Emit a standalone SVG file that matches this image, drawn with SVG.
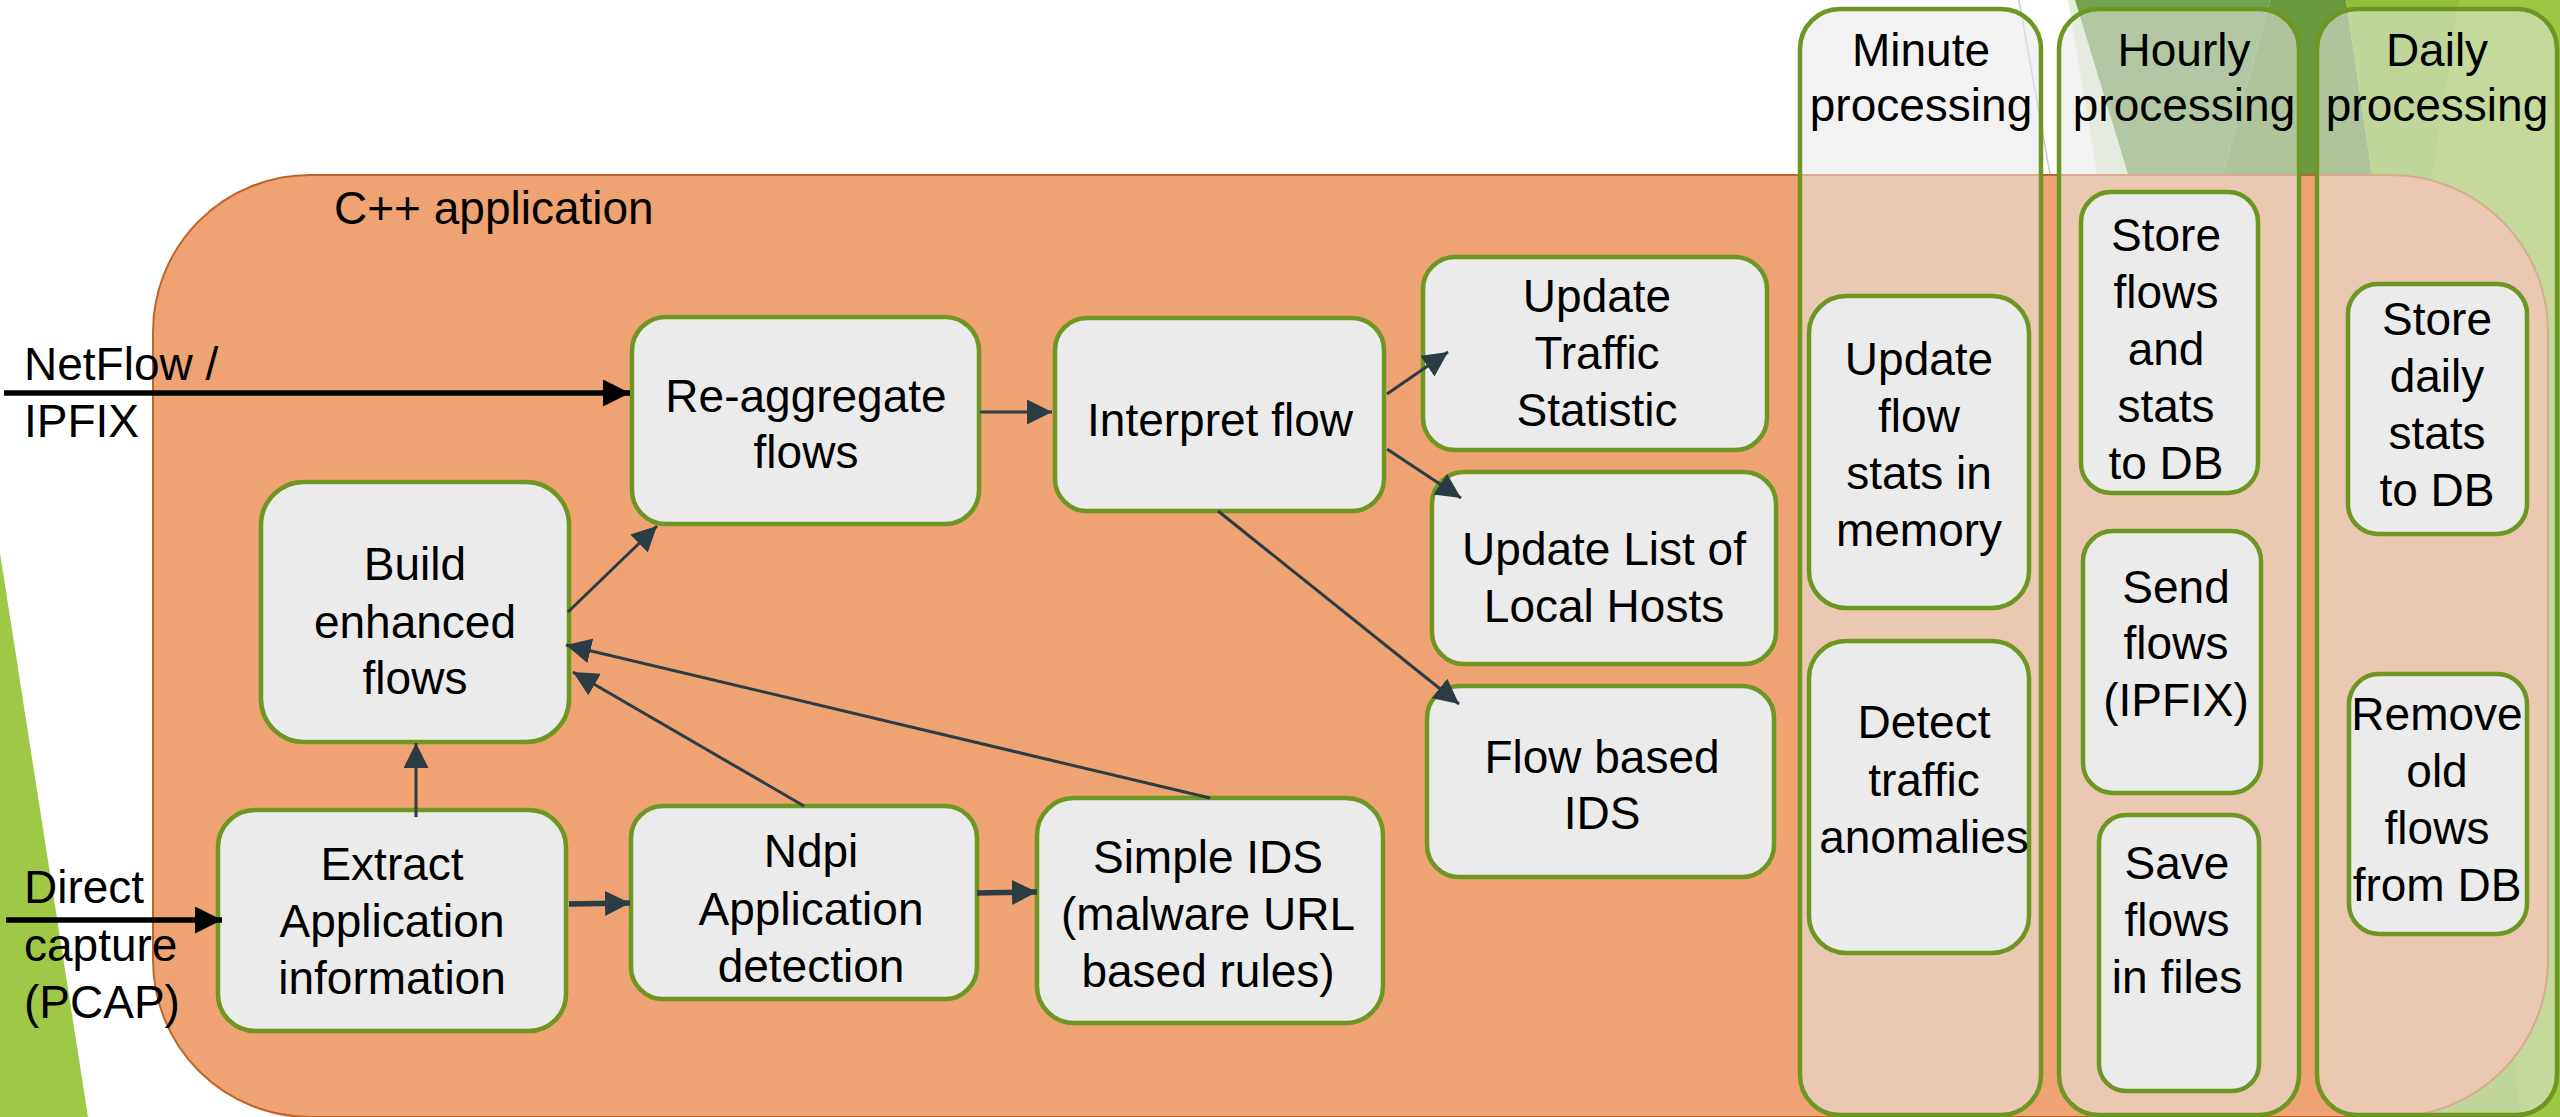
<svg xmlns="http://www.w3.org/2000/svg" width="2560" height="1117" viewBox="0 0 2560 1117">
  <style>
    .lbl { font-family: "Liberation Sans", Arial, sans-serif; font-size: 46px; fill: #000; }
    .mid { text-anchor: middle; }
    .node { fill: #EBEBEB; stroke: #6D9623; stroke-width: 4.5; }
    .col { fill: #E8E8E8; fill-opacity: 0.55; stroke: #6D9623; stroke-width: 4.5; }
    .app { fill: #EFA272; stroke: #C0652A; stroke-width: 2; }
    .flow { fill: none; stroke: #2B3C44; stroke-width: 3; marker-end: url(#head); }
    .flow.thick { stroke-width: 5.5; }
    .input { fill: none; stroke: #000; stroke-width: 5.5; marker-end: url(#headBlack); }
  </style>
  <defs>
    <marker id="head" viewBox="0 0 10 10" refX="10" refY="5" markerWidth="25" markerHeight="25" markerUnits="userSpaceOnUse" orient="auto">
      <path d="M0,0 L10,5 L0,10 z" fill="#2B3C44"/>
    </marker>
    <marker id="headBlack" viewBox="0 0 10 10" refX="10" refY="5" markerWidth="27" markerHeight="27" markerUnits="userSpaceOnUse" orient="auto">
      <path d="M0,0 L10,5 L0,10 z" fill="#000"/>
    </marker>
  </defs>

  <!-- page background and theme decorations -->
  <rect x="0" y="0" width="2560" height="1117" fill="#FFFFFF"/>
  <g id="decor">
    <polygon points="0,553 88,1117 0,1117" fill="#9FC847"/>
    <polygon points="2068,0 2075,0 2128,174 2097,174" fill="#E3F0D2"/>
    <polygon points="2075,0 2270,0 2223,174 2128,174" fill="#73A24F"/>
    <polygon points="2270,0 2346,0 2372,174 2223,174" fill="#6A9A3E"/>
    <polygon points="2346,0 2560,0 2560,1117 2300,1117 2372,174" fill="#8FBF3A"/>
    <polygon points="2459,0 2560,0 2560,1117 2520,1117 2432,174" fill="#9CC742"/>
    <line x1="2019" y1="0" x2="2050" y2="174" stroke="#C9C9C9" stroke-width="1.5"/>
  </g>

  <!-- application container -->
  <g id="cpp-app">
    <rect class="app" x="153" y="175" width="2395" height="942" rx="157" ry="157"/>
    <text class="lbl" x="334" y="224">C++ application</text>
  </g>

  <!-- periodic processing lanes -->
  <g id="lane-minute">
    <rect class="col" x="1800" y="9" width="241" height="1106" rx="40" ry="40"/>
    <text class="lbl mid" x="1921" y="66">Minute</text>
    <text class="lbl mid" x="1921" y="121">processing</text>
  </g>
  <g id="lane-hourly">
    <rect class="col" x="2059" y="9" width="240" height="1106" rx="40" ry="40"/>
    <text class="lbl mid" x="2184" y="66">Hourly</text>
    <text class="lbl mid" x="2184" y="121">processing</text>
  </g>
  <g id="lane-daily">
    <rect class="col" x="2317" y="9" width="240" height="1106" rx="40" ry="40"/>
    <text class="lbl mid" x="2437" y="66">Daily</text>
    <text class="lbl mid" x="2437" y="121">processing</text>
  </g>

  <!-- external inputs -->
  <g id="in-netflow">
    <text class="lbl" x="24" y="380">NetFlow /</text>
    <text class="lbl" x="24" y="437">IPFIX</text>
  </g>
  <g id="in-pcap">
    <text class="lbl" x="24" y="903">Direct</text>
    <text class="lbl" x="24" y="961">capture</text>
    <text class="lbl" x="24" y="1018">(PCAP)</text>
  </g>

  <!-- processing nodes -->
  <g id="reaggregate">
    <rect class="node" x="632" y="317" width="347" height="207" rx="34"/>
    <text class="lbl mid" x="806" y="412">Re-aggregate</text>
    <text class="lbl mid" x="806" y="468">flows</text>
  </g>
  <g id="interpret">
    <rect class="node" x="1055" y="318" width="329" height="193" rx="32"/>
    <text class="lbl mid" x="1220" y="436">Interpret flow</text>
  </g>
  <g id="traffic-stats">
    <rect class="node" x="1423" y="257" width="344" height="193" rx="32"/>
    <text class="lbl mid" x="1597" y="312">Update</text>
    <text class="lbl mid" x="1597" y="369">Traffic</text>
    <text class="lbl mid" x="1597" y="426">Statistic</text>
  </g>
  <g id="local-hosts">
    <rect class="node" x="1432" y="472" width="344" height="192" rx="32"/>
    <text class="lbl mid" x="1604" y="565">Update List of</text>
    <text class="lbl mid" x="1604" y="622">Local Hosts</text>
  </g>
  <g id="flow-ids">
    <rect class="node" x="1427" y="686" width="347" height="191" rx="32"/>
    <text class="lbl mid" x="1602" y="773">Flow based</text>
    <text class="lbl mid" x="1602" y="829">IDS</text>
  </g>
  <g id="build-enhanced">
    <rect class="node" x="261" y="482" width="308" height="260" rx="43"/>
    <text class="lbl mid" x="415" y="580">Build</text>
    <text class="lbl mid" x="415" y="638">enhanced</text>
    <text class="lbl mid" x="415" y="694">flows</text>
  </g>
  <g id="extract-app">
    <rect class="node" x="218" y="810" width="348" height="221" rx="37"/>
    <text class="lbl mid" x="392" y="880">Extract</text>
    <text class="lbl mid" x="392" y="937">Application</text>
    <text class="lbl mid" x="392" y="994">information</text>
  </g>
  <g id="ndpi">
    <rect class="node" x="631" y="806" width="346" height="193" rx="32"/>
    <text class="lbl mid" x="811" y="867">Ndpi</text>
    <text class="lbl mid" x="811" y="925">Application</text>
    <text class="lbl mid" x="811" y="982">detection</text>
  </g>
  <g id="simple-ids">
    <rect class="node" x="1037" y="798" width="346" height="225" rx="37"/>
    <text class="lbl mid" x="1208" y="873">Simple IDS</text>
    <text class="lbl mid" x="1208" y="930">(malware URL</text>
    <text class="lbl mid" x="1208" y="987">based rules)</text>
  </g>

  <g id="mem-stats">
    <rect class="node" x="1809" y="296" width="220" height="312" rx="37"/>
    <text class="lbl mid" x="1919" y="375">Update</text>
    <text class="lbl mid" x="1919" y="432">flow</text>
    <text class="lbl mid" x="1919" y="489">stats in</text>
    <text class="lbl mid" x="1919" y="546">memory</text>
  </g>
  <g id="anomalies">
    <rect class="node" x="1809" y="641" width="220" height="312" rx="37"/>
    <text class="lbl mid" x="1924" y="738">Detect</text>
    <text class="lbl mid" x="1924" y="796">traffic</text>
    <text class="lbl mid" x="1924" y="853">anomalies</text>
  </g>
  <g id="store-flows">
    <rect class="node" x="2081" y="192" width="177" height="301" rx="30"/>
    <text class="lbl mid" x="2166" y="251">Store</text>
    <text class="lbl mid" x="2166" y="308">flows</text>
    <text class="lbl mid" x="2166" y="365">and</text>
    <text class="lbl mid" x="2166" y="422">stats</text>
    <text class="lbl mid" x="2166" y="479">to DB</text>
  </g>
  <g id="send-flows">
    <rect class="node" x="2083" y="531" width="178" height="262" rx="30"/>
    <text class="lbl mid" x="2176" y="603">Send</text>
    <text class="lbl mid" x="2176" y="659">flows</text>
    <text class="lbl mid" x="2176" y="716">(IPFIX)</text>
  </g>
  <g id="save-files">
    <rect class="node" x="2099" y="815" width="160" height="276" rx="27"/>
    <text class="lbl mid" x="2177" y="879">Save</text>
    <text class="lbl mid" x="2177" y="936">flows</text>
    <text class="lbl mid" x="2177" y="993">in files</text>
  </g>
  <g id="daily-stats">
    <rect class="node" x="2348" y="284" width="179" height="250" rx="30"/>
    <text class="lbl mid" x="2437" y="335">Store</text>
    <text class="lbl mid" x="2437" y="392">daily</text>
    <text class="lbl mid" x="2437" y="449">stats</text>
    <text class="lbl mid" x="2437" y="506">to DB</text>
  </g>
  <g id="remove-old">
    <rect class="node" x="2349" y="674" width="178" height="260" rx="30"/>
    <text class="lbl mid" x="2437" y="730">Remove</text>
    <text class="lbl mid" x="2437" y="787">old</text>
    <text class="lbl mid" x="2437" y="844">flows</text>
    <text class="lbl mid" x="2437" y="901">from DB</text>
  </g>

  <!-- connectors -->
  <g id="connectors">
    <line class="input" x1="4" y1="393" x2="630" y2="393"/>
    <line class="input" x1="6" y1="920" x2="222" y2="920"/>
    <line class="flow" x1="568" y1="612" x2="657" y2="526"/>
    <line class="flow" x1="980" y1="412" x2="1052" y2="412"/>
    <line class="flow" x1="1387" y1="394" x2="1448" y2="352"/>
    <line class="flow" x1="1387" y1="449" x2="1461" y2="498"/>
    <line class="flow" x1="1218" y1="511" x2="1459" y2="704"/>
    <line class="flow" x1="416" y1="817" x2="416" y2="743"/>
    <line class="flow thick" x1="569" y1="904" x2="630" y2="903"/>
    <line class="flow thick" x1="977" y1="893" x2="1037" y2="892"/>
    <line class="flow" x1="804" y1="806" x2="573" y2="672"/>
    <line class="flow" x1="1210" y1="798" x2="566" y2="645"/>
  </g>
</svg>
